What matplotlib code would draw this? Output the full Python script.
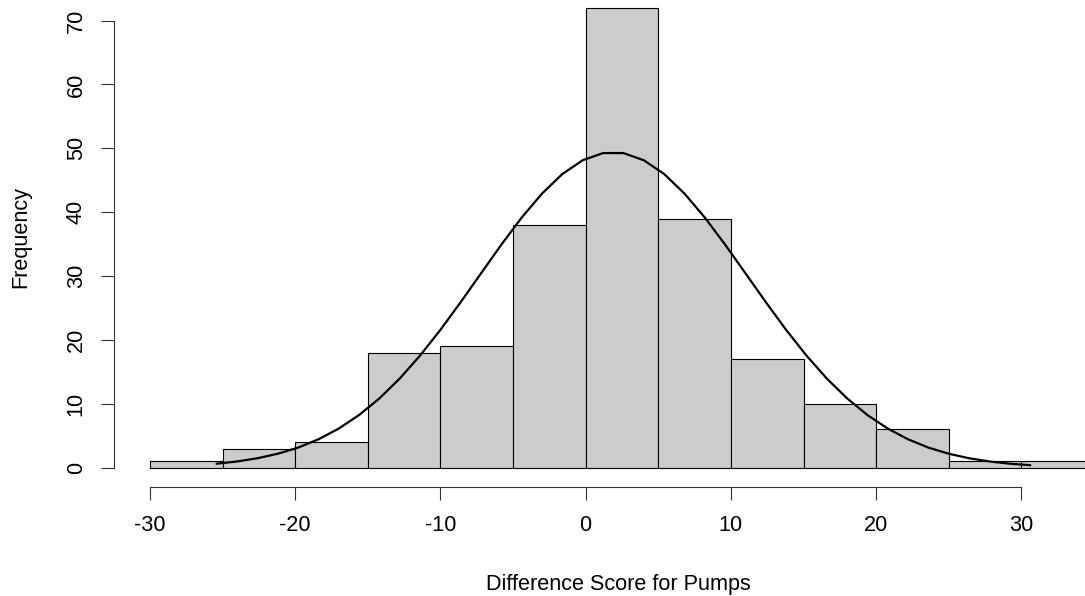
import matplotlib as mpl
import matplotlib.pyplot as plt

# ----------------------------------------------------------------------------
# Data
# ----------------------------------------------------------------------------
bin_lefts = [-30, -25, -20, -15, -10, -5, 0, 5, 10, 15, 20, 25, 30]
counts = [1, 3, 4, 18, 19, 38, 72, 39, 17, 10, 6, 1, 1]
bin_width = 5

# fitted normal curve
curve_x = [-25.4, -24.0, -22.6, -21.2, -19.8, -18.4, -17.0, -15.6, -14.2,
           -12.8, -11.4, -10.0, -8.6, -7.2, -5.8, -4.4, -3.0, -1.6, -0.2,
           1.2, 2.6, 4.0, 5.4, 6.8, 8.2, 9.6, 11.0, 12.4, 13.8, 15.2, 16.6,
           18.0, 19.4, 20.8, 22.2, 23.6, 25.0, 26.4, 27.8, 29.2, 30.6]
curve_y = [0.63, 0.98, 1.48, 2.19, 3.15, 4.45, 6.13, 8.25, 10.86,
           13.97, 17.57, 21.59, 25.94, 30.45, 34.94, 39.18, 42.93, 45.99, 48.14,
           49.26, 49.26, 48.14, 45.99, 42.93, 39.18, 34.94, 30.45, 25.94, 21.59,
           17.57, 13.97, 10.86, 8.25, 6.13, 4.45, 3.15, 2.19, 1.48, 0.98,
           0.63, 0.40]

x_ticks = [-30, -20, -10, 0, 10, 20, 30]
y_ticks = [0, 10, 20, 30, 40, 50, 60, 70]

# ----------------------------------------------------------------------------
# Style
# ----------------------------------------------------------------------------
W, H = 1085, 596
FONT_SIZE = 15.6

mpl.rcParams.update({
    "font.family": ["Liberation Sans", "DejaVu Sans"],
    "font.size": FONT_SIZE,
})

fig = plt.figure(figsize=(W / 100, H / 100), dpi=100)

# plot region in pixels (R-style 4% padding around the data range)
left_px, right_px = 113.7, 1131.7
top_px, bottom_px = -10.7, 487.0
ax = fig.add_axes([left_px / W, 1 - bottom_px / H,
                   (right_px - left_px) / W, (bottom_px - top_px) / H])
ax.set_xlim(-32.5, 37.6)
ax.set_ylim(-3.02, 74.9)

ax.bar(bin_lefts, counts, width=bin_width, align="edge",
       color="#CCCCCC", edgecolor="black", linewidth=0.8, zorder=2)
ax.plot(curve_x, curve_y, color="black", linewidth=1.6, zorder=3)

for side in ("top", "right"):
    ax.spines[side].set_visible(False)
ax.spines["left"].set_bounds(0, 70)
ax.spines["bottom"].set_bounds(-30, 30)
for side in ("left", "bottom"):
    ax.spines[side].set_linewidth(0.8)
    ax.spines[side].set_color("#333333")

ax.set_xticks(x_ticks)
ax.set_xticklabels([f"{t}" for t in x_ticks])
ax.set_yticks(y_ticks)
ax.set_yticklabels([f"{t}" for t in y_ticks], rotation=90, va="center")
ax.tick_params(axis="both", direction="out", length=9.4, width=0.8,
               color="#333333", labelsize=FONT_SIZE)
ax.tick_params(axis="x", pad=11)
ax.tick_params(axis="y", pad=10)

fig.text(618 / W, 1 - 590 / H, "Difference Score for Pumps",
         ha="center", va="baseline", fontsize=FONT_SIZE)
fig.text(21 / W, 1 - 237 / H, "Frequency", rotation=90,
         ha="center", va="center", fontsize=FONT_SIZE)

fig.savefig("out.png", dpi=100)
